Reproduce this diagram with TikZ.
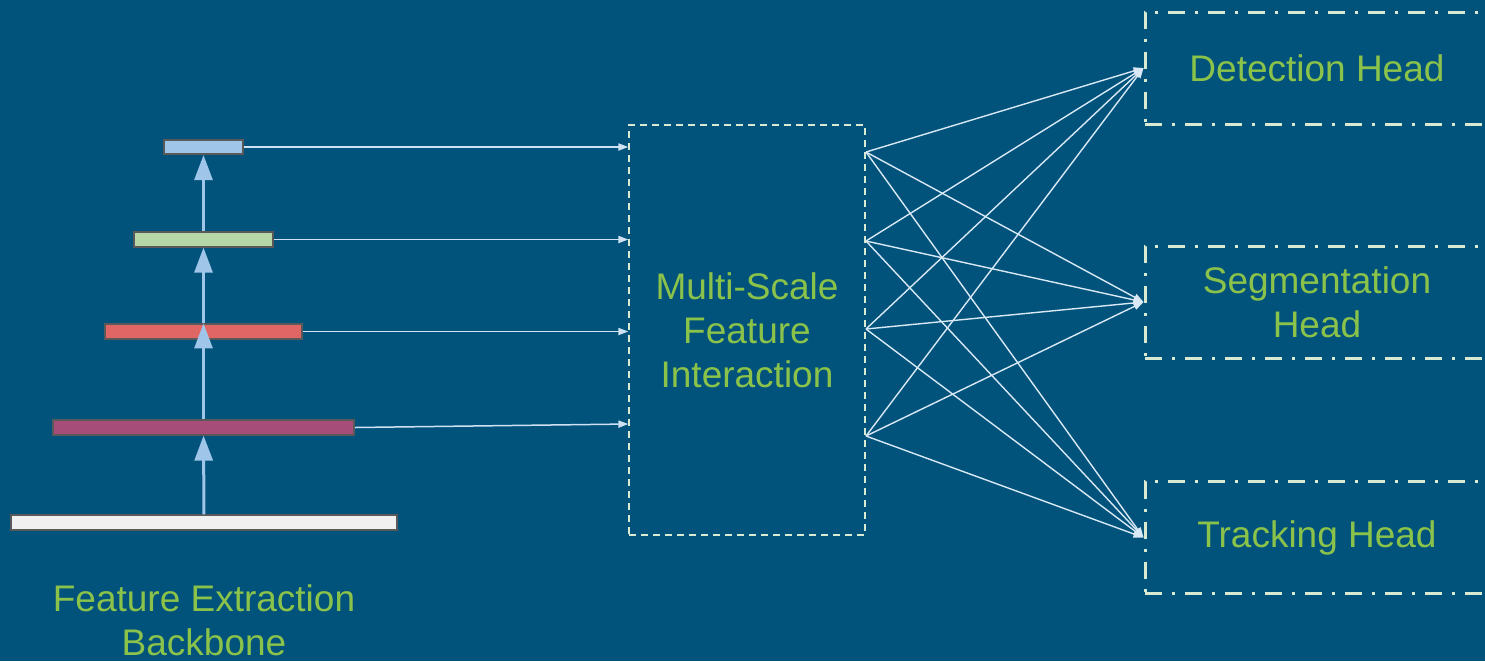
\documentclass[tikz,border=0pt]{standalone}
\usepackage{fontspec}
\setmainfont{Liberation Sans}
\usetikzlibrary{arrows.meta}
\definecolor{bgblue}{HTML}{01537C}
\definecolor{labelgreen}{HTML}{8BC34A}
\definecolor{palegreen}{HTML}{D9EAD3}
\definecolor{paleblue}{HTML}{CFE2F3}
\definecolor{upblue}{HTML}{9FC5E8}
\definecolor{bargray}{HTML}{595959}
\begin{document}
\begin{tikzpicture}
[x=0.5pt,y=-0.5pt,
  bardecorate/.style={shape=rectangle,draw=bargray,line width=0.9pt,inner sep=0pt,minimum height=7.2pt},%
  updecorate/.style={-{Triangle[length=12.5pt,width=9pt]},line width=1.5pt,draw=upblue},%
  feeddecorate/.style={-{Triangle[length=5pt,width=3.6pt]},line width=0.75pt,draw=paleblue},%
  fandecorate/.style={-{Triangle[length=5pt,width=3.6pt]},line width=0.7pt,draw=paleblue!80!white},%
  textdecorate/.style={text=labelgreen,align=center,font=\fontsize{18.5}{22}\selectfont},%
  mixdecorate/.style={shape=rectangle,draw=palegreen,dash pattern=on 3.5pt off 2.5pt,line width=0.7pt,minimum width=118pt,minimum height=205pt,textdecorate},%
  headdecorate/.style={shape=rectangle,draw=palegreen,dash pattern=on 8.5pt off 5pt on 1.5pt off 5pt,line width=1.5pt,minimum width=172pt,minimum height=56pt,textdecorate}]
\fill[bgblue] (0,0) rectangle (1485,661);
\useasboundingbox (0,0) rectangle (1485,661);
\clip (0,0) rectangle (1485,661);
% backbone levels
\node (base) at (204,522.5) [bardecorate,fill=black!6,minimum width=193pt] {};
\node (lvld) at (203.5,427.5) [bardecorate,fill={rgb,255:red,166;green,77;blue,121},minimum width=150.5pt] {};
\node (lvlc) at (203.5,331.5) [bardecorate,fill={rgb,255:red,224;green,102;blue,102},minimum width=98.5pt] {};
\node (lvlb) at (203.5,239.5) [bardecorate,fill={rgb,255:red,182;green,215;blue,168},minimum width=69.5pt] {};
\node (lvla) at (203.5,147) [bardecorate,fill=upblue,minimum width=39.5pt] {};
\node (backbone) at (204,620) [textdecorate] {Feature Extraction\\Backbone};
% interaction and heads
\node (mix) at (747,330) [mixdecorate] {Multi-Scale\\Feature\\Interaction};
\node (det) at (1317,68) [headdecorate] {Detection Head};
\node (seg) at (1317,302) [headdecorate] {Segmentation\\Head};
\node (trk) at (1317,537.5) [headdecorate] {Tracking Head};
% fan-out points
\coordinate (o1) at (866,152);
\coordinate (o2) at (866,241);
\coordinate (o3) at (866,329);
\coordinate (o4) at (866,436);
% edges or lines
\path
(base) edge[updecorate] (lvld)
(lvld) edge[updecorate] (lvlc.north)
(lvlc) edge[updecorate] (lvlb)
(lvlb) edge[updecorate] (lvla);
\path
(lvla.east) edge[feeddecorate] (lvla.east -| mix.west)
(lvlb.east) edge[feeddecorate] (lvlb.east -| mix.west)
(lvlc.east) edge[feeddecorate] (lvlc.east -| mix.west)
(lvld.east) edge[feeddecorate] (mix.west |- 0,424);
\foreach \o in {o1,o2,o3,o4}
  \foreach \h in {det,seg,trk}
    \path (\o) edge[fandecorate] (\h.west);
\end{tikzpicture}
\end{document}
